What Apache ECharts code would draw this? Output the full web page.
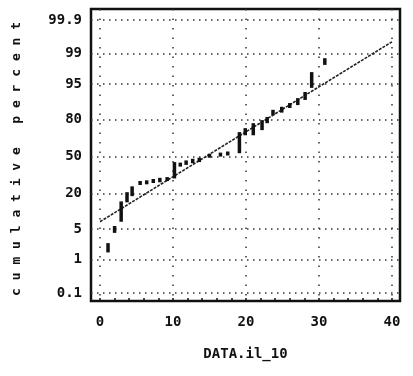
<!DOCTYPE html>
<html>
<head>
<meta charset="utf-8">
<script src="https://cdn.jsdelivr.net/npm/echarts@6/dist/echarts.min.js"></script>
<style>
  html, body { margin: 0; padding: 0; background: #fff; }
  #chart { width: 413px; height: 376px; }
</style>
</head>
<body>
<div id="chart"></div>
<script>
// Normal probability plot of DATA.il_10 (cumulative percent on a probit scale)

// probability-axis ticks (cumulative percent) and their labels
const probTicks = [0.1, 1, 5, 20, 50, 80, 95, 99, 99.9];
const probTickLabels = ['0.1', '1', '5', '20', '50', '80', '95', '99', '99.9'];

// value-axis ticks
const xTicks = [0, 10, 20, 30, 40];
const xMinorTicks = [0, 2, 4, 6, 8, 10, 12, 14, 16, 18, 20, 22, 24, 26, 28, 30, 32, 34, 36, 38, 40];

// observed marks: data value, and the span of cumulative percent each mark covers
const markValues  = [1.1, 2.0, 2.9, 3.7, 4.4, 5.5, 6.4, 7.3, 8.2, 9.2, 10.2, 11.0, 11.8, 12.7, 13.6, 15.0, 16.5, 17.5, 19.1, 19.9, 21.0, 22.2, 22.9, 23.7, 24.9, 26.0, 27.1, 28.1, 29.0, 30.8];
const markLowPct  = [1.5, 4.2, 7.0, 15.0, 18.5, 26.0, 26.5, 27.5, 28.0, 29.0, 31.0, 41.0, 42.5, 44.0, 45.0, 49.0, 50.0, 51.0, 53.0, 68.5, 68.5, 72.5, 77.5, 82.5, 84.0, 86.4, 87.8, 90.0, 94.0, 98.1];
const markHighPct = [2.5, 5.8, 15.5, 21.0, 25.0, 29.0, 29.5, 30.5, 31.5, 32.0, 45.0, 44.5, 46.5, 48.0, 49.0, 52.5, 53.5, 54.5, 71.0, 74.0, 77.5, 79.5, 81.5, 85.5, 87.0, 88.7, 90.7, 92.8, 97.2, 98.7];

// fitted normal line: end values and their cumulative percent
const fitValues = [0, 40];
const fitPct = [7.0, 99.53];

// inverse standard normal CDF (Acklam's rational approximation)
function probit(p) {
  const a = [-3.969683028665376e+01, 2.209460984245205e+02, -2.759285104469687e+02, 1.383577518672690e+02, -3.066479806614716e+01, 2.506628277459239e+00];
  const b = [-5.447609879822406e+01, 1.615858368580409e+02, -1.556989798598866e+02, 6.680131188771972e+01, -1.328068155288572e+01];
  const c = [-7.784894002430293e-03, -3.223964580411365e-01, -2.400758277161838e+00, -2.549732539343734e+00, 4.374664141464968e+00, 2.938163982698783e+00];
  const d = [7.784695709041462e-03, 3.224671290700398e-01, 2.445134137142996e+00, 3.754408661907416e+00];
  const pl = 0.02425, ph = 1 - pl;
  let q, r;
  if (p < pl) {
    q = Math.sqrt(-2 * Math.log(p));
    return (((((c[0]*q+c[1])*q+c[2])*q+c[3])*q+c[4])*q+c[5]) / ((((d[0]*q+d[1])*q+d[2])*q+d[3])*q+1);
  }
  if (p > ph) {
    q = Math.sqrt(-2 * Math.log(1 - p));
    return -(((((c[0]*q+c[1])*q+c[2])*q+c[3])*q+c[4])*q+c[5]) / ((((d[0]*q+d[1])*q+d[2])*q+d[3])*q+1);
  }
  q = p - 0.5; r = q * q;
  return (((((a[0]*r+a[1])*r+a[2])*r+a[3])*r+a[4])*r+a[5])*q / (((((b[0]*r+b[1])*r+b[2])*r+b[3])*r+b[4])*r+1);
}
const pctToZ = pct => probit(pct / 100);

const zTicks = probTicks.map(pctToZ);
const markData = markValues.map((v, i) => [v, pctToZ(markLowPct[i]), pctToZ(markHighPct[i])]);
const fitData = fitValues.map((v, i) => [v, pctToZ(fitPct[i])]);

const FONT = '"DejaVu Sans Mono", "Liberation Mono", monospace';
const INK = '#111';

const chart = echarts.init(document.getElementById('chart'), null, { renderer: 'canvas' });
chart.setOption({
  animation: false,
  backgroundColor: '#fff',
  grid: {
    left: 91, right: 13, top: 9, bottom: 75,
    show: true, borderColor: INK, borderWidth: 2.5, backgroundColor: 'transparent'
  },
  xAxis: [
    {
      type: 'value', min: -1.233, max: 41.1,
      axisLine: { show: false },
      axisTick: { show: false, customValues: xTicks },
      axisLabel: {
        customValues: xTicks, margin: 14,
        color: INK, fontFamily: FONT, fontWeight: 'bold', fontSize: 14
      },
      splitLine: { show: true, lineStyle: { color: '#333', width: 1.5, type: [1.5, 8] } },
      name: 'DATA.il_10', nameLocation: 'middle', nameGap: 46,
      nameTextStyle: { color: INK, fontFamily: FONT, fontWeight: 'bold', fontSize: 14 }
    },
    {
      type: 'value', min: -1.233, max: 41.1, position: 'bottom',
      axisLine: { show: false },
      axisTick: { show: true, inside: true, length: 3, customValues: xMinorTicks, lineStyle: { color: INK, width: 1.5 } },
      axisLabel: { show: false },
      splitLine: { show: false }
    }
  ],
  yAxis: {
    type: 'value', min: -3.27, max: 3.34,
    axisLine: { show: false },
    axisTick: { show: false, customValues: zTicks },
    axisLabel: {
      customValues: zTicks, margin: 9,
      color: INK, fontFamily: FONT, fontWeight: 'bold', fontSize: 14,
      formatter: v => {
        const i = zTicks.findIndex(z => Math.abs(z - v) < 1e-6);
        return i >= 0 ? probTickLabels[i] : '';
      }
    },
    splitLine: { show: true, lineStyle: { color: '#333', width: 1.5, type: [1.5, 4.5] } },
    name: 'c u m u l a t i v e   p e r c e n t ', nameLocation: 'middle', nameGap: 68, nameRotate: 90,
    nameTextStyle: { color: INK, fontFamily: FONT, fontWeight: 'bold', fontSize: 13 }
  },
  series: [
    {
      type: 'line',
      data: fitData,
      symbol: 'none',
      lineStyle: { color: '#222', width: 1.6, type: [3, 1.2] },
      z: 3
    },
    {
      type: 'custom',
      data: markData,
      encode: { x: 0, y: [1, 2] },
      renderItem: (params, api) => {
        const x = api.value(0);
        const top = api.coord([x, api.value(2)]);
        const bot = api.coord([x, api.value(1)]);
        let y = top[1], h = bot[1] - top[1];
        if (h < 4) { y -= (4 - h) / 2; h = 4; }
        return { type: 'rect', shape: { x: top[0] - 1.75, y: y, width: 3.5, height: h }, style: { fill: INK } };
      },
      z: 4
    }
  ]
});
</script>
</body>
</html>
